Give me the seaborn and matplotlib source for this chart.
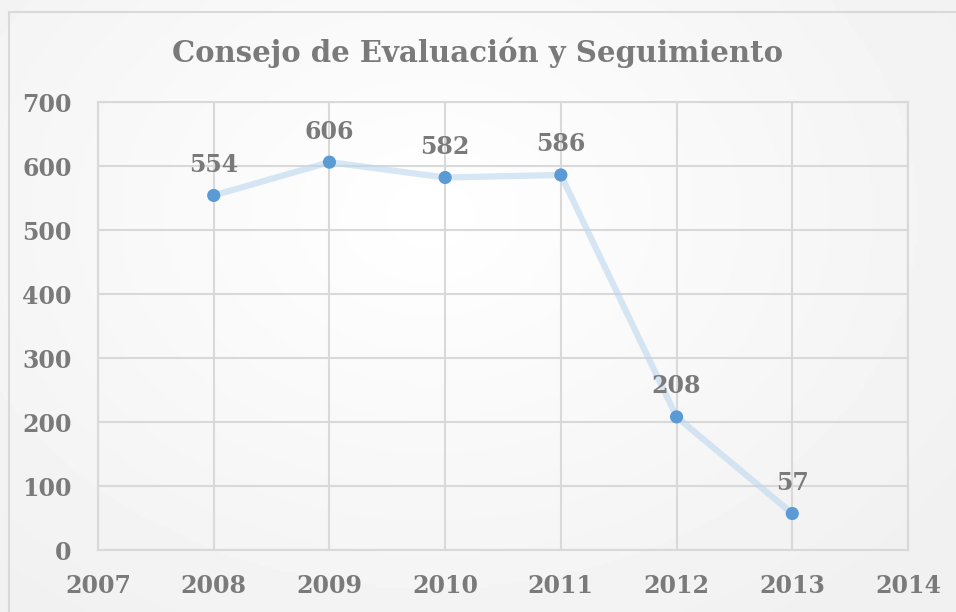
import numpy as np
import pandas as pd
import matplotlib
matplotlib.use('Agg')
import matplotlib.pyplot as plt
import seaborn as sns

years = [2008, 2009, 2010, 2011, 2012, 2013]
values = [554, 606, 582, 586, 208, 57]
x_ticks = [2007, 2008, 2009, 2010, 2011, 2012, 2013, 2014]
y_ticks = [0, 100, 200, 300, 400, 500, 600, 700]
title = 'Consejo de Evaluación y Seguimiento'

TEXT_GRAY = '#7a7a7a'
GRID_GRAY = '#d9d9d9'

sns.set_theme(style='white')
plt.rcParams['font.family'] = ['DejaVu Serif']

df = pd.DataFrame({'year': years, 'value': values})

fig = plt.figure(figsize=(9.56, 6.12), dpi=100)

# background: soft radial gradient, white near the upper middle, grey at the edges
bg = fig.add_axes([0, 0, 1, 1], zorder=-10)
gx, gy = np.meshgrid(np.linspace(0, 1, 300), np.linspace(0, 1, 200))
dist = np.sqrt(((gx - 0.45) * 1.2) ** 2 + (gy - 0.35) ** 2)
grad = np.clip(1.0 - 0.07 * dist, 0.945, 1)
bg.imshow(grad, cmap='gray', vmin=0, vmax=1, aspect='auto', extent=[0, 1, 0, 1], origin='upper')
bg.add_patch(plt.Rectangle((9 / 956, -0.01), 1, 1 - 12 / 612 + 0.01, fill=False,
                           edgecolor='#d9d9d9', linewidth=1.5, transform=bg.transAxes))
bg.set_xlim(0, 1)
bg.set_ylim(0, 1)
bg.axis('off')

ax = fig.add_axes([98 / 956, 1 - 550 / 612, (908 - 98) / 956, (550 - 102) / 612])
ax.patch.set_alpha(0)

sns.lineplot(data=df, x='year', y='value', ax=ax, color='#bdd7ee', linewidth=4.5,
             alpha=0.6, zorder=2)
sns.scatterplot(data=df, x='year', y='value', ax=ax, color='#5b9bd5', s=90,
                edgecolor='none', zorder=3)

for yr, v in zip(years, values):
    ax.annotate(str(v), (yr, v), xytext=(0, 22), textcoords='offset points',
                ha='center', va='center', fontsize=17, fontweight='bold', color=TEXT_GRAY)

ax.set_xlim(2007, 2014)
ax.set_ylim(0, 700)
ax.set_xticks(x_ticks)
ax.set_yticks(y_ticks)
ax.grid(True, color=GRID_GRAY, linewidth=1.5)
for s in ax.spines.values():
    s.set_color(GRID_GRAY)
    s.set_linewidth(1.5)
ax.tick_params(axis='both', length=0, labelsize=17, labelcolor=TEXT_GRAY)
ax.tick_params(axis='x', pad=17)
ax.tick_params(axis='y', pad=19)
for lab in ax.get_xticklabels() + ax.get_yticklabels():
    lab.set_fontweight('bold')
ax.set_xlabel('')
ax.set_ylabel('')

fig.text(0.5, 1 - 53 / 612, title, ha='center', va='center', fontsize=21,
         fontweight='bold', color=TEXT_GRAY)

fig.savefig('out.png', dpi=100)
